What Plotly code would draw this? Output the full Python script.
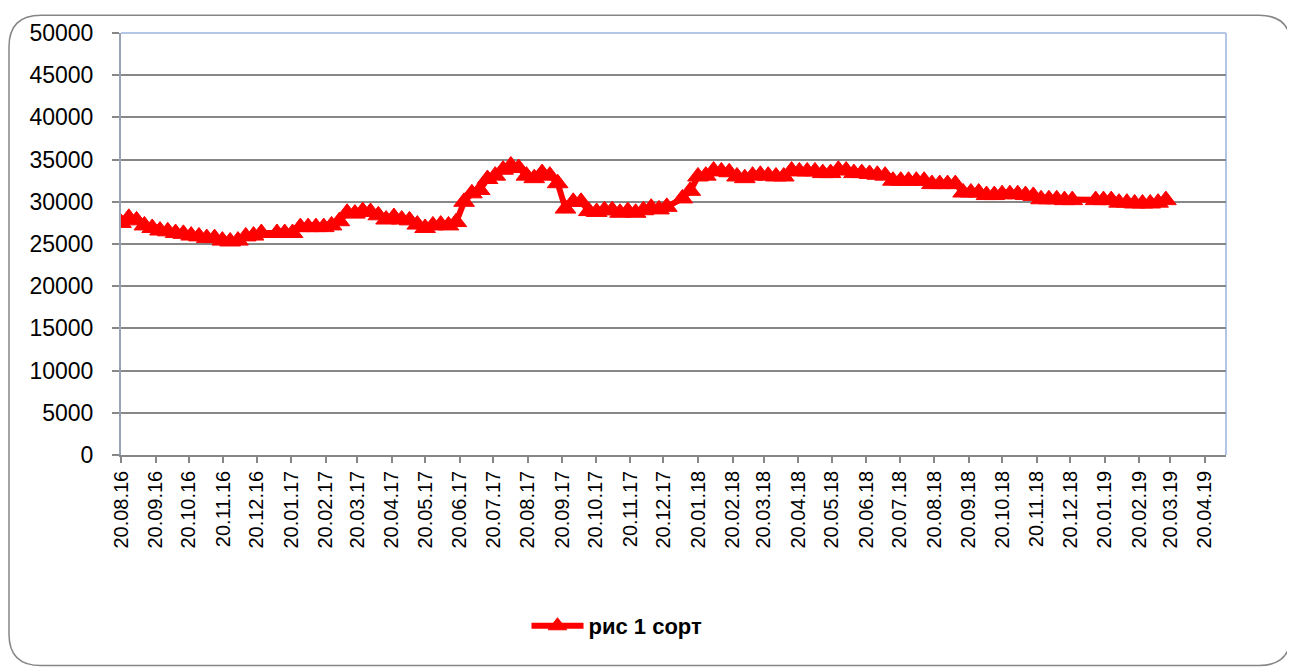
import plotly.graph_objects as go
import pandas as pd

# ---------------- data ----------------
series_name = "рис 1 сорт"
start_date = "2016-08-20"   # weekly observations from this date
values = [
    27500, 28100, 27800, 27200, 26900, 26600, 26500, 26300, 26200, 26000,
    25900, 25700, 25700, 25400, 25300, 25400, 25900, 26000, 26300, None,
    26300, 26300, 26300, 27000, 27000, 27000, 27000, 27200, 27700, 28700,
    28600, 28900, 28800, 28400, 27900, 28200, 27900, 27800, 27300, 26900,
    27200, 27300, 27200, 27600, 30000, 31000, 31400, 32700, 33100, 33800,
    34300, 34000, 33100, 32800, 33400, 33100, 32200, 29200, 30000, 30000,
    28900, 28800, 29000, 29000, 28700, 28900, 28700, 29000, 29300, 29100,
    29400, None, 30400, 31300, 33000, 33100, 33700, 33600, 33500, 33000,
    32800, 33100, 33200, 33100, 33000, 33000, 33700, 33600, 33600, 33600,
    33400, 33400, 33800, 33700, 33400, 33400, 33300, 33200, 33100, 32500,
    32500, 32500, 32500, 32500, 32100, 32100, 32100, 32100, 31100, 31100,
    31100, 30800, 30800, 30900, 30900, 30900, 30800, 30700, 30300, 30300,
    30300, 30200, 30200, None, None, 30200, 30200, 30200, 29900, 29900,
    29800, 29800, 29800, 29900, 30200,
]
dates = pd.date_range(start_date, periods=len(values), freq="7D")

tick_dates = [
    "2016-08-20", "2016-09-20", "2016-10-20", "2016-11-20", "2016-12-20",
    "2017-01-20", "2017-02-20", "2017-03-20", "2017-04-20", "2017-05-20",
    "2017-06-20", "2017-07-20", "2017-08-20", "2017-09-20", "2017-10-20",
    "2017-11-20", "2017-12-20", "2018-01-20", "2018-02-20", "2018-03-20",
    "2018-04-20", "2018-05-20", "2018-06-20", "2018-07-20", "2018-08-20",
    "2018-09-20", "2018-10-20", "2018-11-20", "2018-12-20", "2019-01-20",
    "2019-02-20", "2019-03-20", "2019-04-20",
]
tick_labels = [
    "20.08.16", "20.09.16", "20.10.16", "20.11.16", "20.12.16",
    "20.01.17", "20.02.17", "20.03.17", "20.04.17", "20.05.17",
    "20.06.17", "20.07.17", "20.08.17", "20.09.17", "20.10.17",
    "20.11.17", "20.12.17", "20.01.18", "20.02.18", "20.03.18",
    "20.04.18", "20.05.18", "20.06.18", "20.07.18", "20.08.18",
    "20.09.18", "20.10.18", "20.11.18", "20.12.18", "20.01.19",
    "20.02.19", "20.03.19", "20.04.19",
]
y_ticks = [0, 5000, 10000, 15000, 20000, 25000, 30000, 35000, 40000, 45000, 50000]

# ---------------- layout geometry (page pixels) ----------------
OFF = 8                      # browser body margin
W, H = 1295 - OFF, 672 - OFF
L, R, T, B = 121, 1226, 28, 455   # plot area in page pixels
PW, PH = R - L, B - T

def px(x):
    return (x - L) / PW

def py(y):
    return (B - y) / PH

def rounded_rect(x0, y0, x1, y1, r):
    pts = [
        f"M {px(x0 + r)},{py(y0)}",
        f"L {px(x1 - r)},{py(y0)}",
        f"Q {px(x1)},{py(y0)} {px(x1)},{py(y0 + r)}",
        f"L {px(x1)},{py(y1 - r)}",
        f"Q {px(x1)},{py(y1)} {px(x1 - r)},{py(y1)}",
        f"L {px(x0 + r)},{py(y1)}",
        f"Q {px(x0)},{py(y1)} {px(x0)},{py(y1 - r)}",
        f"L {px(x0)},{py(y0 + r)}",
        f"Q {px(x0)},{py(y0)} {px(x0 + r)},{py(y0)}",
        "Z",
    ]
    return " ".join(pts)

FONT = "Liberation Sans"
GRID = "#878787"

fig = go.Figure()
fig.add_trace(go.Scatter(
    x=dates, y=values, name=series_name, mode="lines+markers",
    connectgaps=True,
    line=dict(color="#FF0000", width=6),
    marker=dict(symbol="triangle-up", size=18, color="#FF0000",
                line=dict(color="#FF0000", width=1)),
))

fig.update_layout(
    width=W, height=H,
    margin=dict(l=L - OFF, r=1295 - R, t=T - OFF, b=672 - B, pad=0),
    paper_bgcolor="white", plot_bgcolor="white",
    font=dict(family=FONT, size=21, color="black"),
    showlegend=True,
    legend=dict(orientation="h", x=px(617), xanchor="center",
                y=py(628), yanchor="middle",
                font=dict(family=FONT, size=22, color="black", weight="bold"),
                itemwidth=52, bgcolor="rgba(0,0,0,0)"),
    xaxis=dict(
        type="date", range=["2016-08-20", "2019-05-09"],
        tickvals=tick_dates, ticktext=tick_labels, tickangle=-90,
        ticks="outside", ticklen=6, tickcolor=GRID, tickwidth=1.5,
        showline=True, linecolor=GRID, linewidth=1.5,
        showgrid=False, zeroline=False,
        tickfont=dict(family=FONT, size=20, color="black"),
    ),
    yaxis=dict(
        range=[0, 50000], tickvals=y_ticks, tickformat="d",
        ticks="outside", ticklen=7, tickcolor=GRID, tickwidth=1.5,
        showline=True, linecolor="#9AA3B3", linewidth=2,
        showgrid=True, gridcolor=GRID, gridwidth=1.5, zeroline=False,
        ticklabelstandoff=14,
        tickfont=dict(family=FONT, size=23, color="black"),
    ),
    shapes=[
        dict(type="line", xref="paper", yref="paper", x0=0, x1=1, y0=1, y1=1,
             line=dict(color="#B4C7E7", width=2), layer="below"),
        dict(type="line", xref="paper", yref="paper", x0=1, x1=1, y0=0, y1=1,
             line=dict(color="#B4C7E7", width=2), layer="below"),
        dict(type="path", xref="paper", yref="paper",
             path=rounded_rect(9, 10, 1291, 668, 32),
             line=dict(color="#868686", width=1.5), layer="below"),
    ],
)

fig.write_html("out.html")
